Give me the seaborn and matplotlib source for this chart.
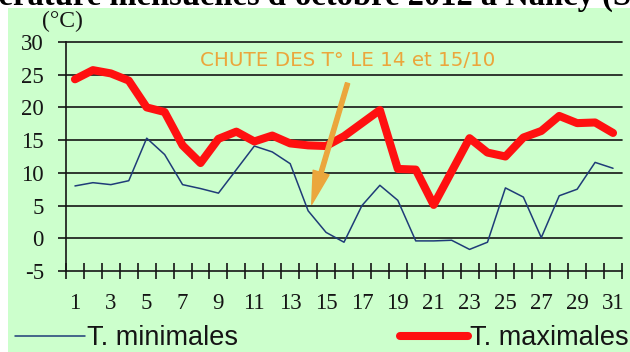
import numpy as np
import pandas as pd
import matplotlib
matplotlib.use("Agg")
import matplotlib.pyplot as plt
import seaborn as sns
from matplotlib.lines import Line2D
from matplotlib.patches import Rectangle

# Daily temperatures, October 2012
days = list(range(1, 32))
t_min = [8.0, 8.5, 8.2, 8.8, 15.3, 12.8, 8.2, 7.6, 6.9, 10.5, 14.1, 13.2, 11.4,
         4.2, 0.9, -0.6, 5.0, 8.1, 5.8, -0.4, -0.4, -0.3, -1.7, -0.6, 7.7, 6.3,
         0.1, 6.5, 7.5, 11.6, 10.7]
t_max = [24.3, 25.7, 25.2, 24.1, 20.0, 19.3, 14.2, 11.5, 15.2, 16.3, 14.8, 15.7,
         14.5, 14.2, 14.1, 15.6, 17.6, 19.6, 10.6, 10.5, 5.1, 10.2, 15.3, 13.1,
         12.5, 15.4, 16.4, 18.7, 17.6, 17.7, 16.1]

y_ticks = [-5, 0, 5, 10, 15, 20, 25, 30]
x_label_days = list(range(1, 32, 2))
series_names = ["T. minimales", "T. maximales"]
unit_label = "(°C)"
title = "Température mensuelles d'octobre 2012 à Nancy (Station)"
note_text = "CHUTE DES T° LE 14 et 15/10"
note_xy = (16.2, 27.2)
arrow_tail = (16.2, 23.7)
arrow_head = (14.2, 5.2)

GREEN = "#CCFFCC"
BLUE = "#1F3C78"
RED = "#FF1010"
ORANGE = "#EBA63C"
INK = "#151515"

sns.set_theme(style="white")
plt.rcParams["axes.unicode_minus"] = False

W, H = 630, 352
fig = plt.figure(figsize=(W / 100, H / 100), dpi=100, facecolor="white")
fig.patches.append(Rectangle((8 / W, 0), 1, (H - 8) / H, transform=fig.transFigure,
                             facecolor=GREEN, edgecolor="none", zorder=-5))

ax = fig.add_axes([66 / W, (H - 271) / H, 556 / W, 229 / H])
ax.set_facecolor("none")
ax.set_zorder(2)

df = pd.DataFrame({"jour": days, "tmin": t_min, "tmax": t_max})

# horizontal rules
for y in y_ticks[1:]:
    ax.axhline(y, color=INK, lw=1.2, zorder=1, clip_on=False)

sns.lineplot(data=df, x="jour", y="tmin", ax=ax, color=BLUE, lw=1.1, zorder=3)
sns.lineplot(data=df, x="jour", y="tmax", ax=ax, color=RED, lw=5.8, zorder=4,
             solid_capstyle="round", solid_joinstyle="round")

ax.set_xlim(0.5, 31.5)
ax.set_ylim(-5, 30)
ax.set_xlabel("")
ax.set_ylabel("")

serif = "Liberation Serif"
ax.set_yticks(y_ticks)
ax.set_yticklabels([str(v) for v in y_ticks], fontfamily=serif, fontsize=16.5, color=INK)
ax.tick_params(axis="y", left=True, length=6, width=1.2, color=INK, pad=10)

ax.set_xticks(np.arange(0.5, 32, 1))
ax.set_xticklabels([])
ax.tick_params(axis="x", which="major", bottom=True, direction="inout", length=12,
               width=1.2, color=INK)
ax.set_xticks(x_label_days, minor=True)
ax.set_xticklabels([str(d) for d in x_label_days], minor=True, fontfamily=serif,
                   fontsize=16.5, color=INK)
ax.tick_params(axis="x", which="minor", bottom=True, length=0, pad=16)

for side in ["top", "right"]:
    ax.spines[side].set_visible(False)
for side in ["left", "bottom"]:
    ax.spines[side].set_color(INK)
    ax.spines[side].set_linewidth(1.2)

# annotation of the temperature drop
ax.text(*note_xy, note_text, ha="center", va="center", color=ORANGE,
        fontsize=14.3, fontfamily="DejaVu Sans", zorder=5)
ax.annotate("", xy=arrow_head, xytext=arrow_tail,
            arrowprops=dict(arrowstyle="simple,head_length=1.7,head_width=0.85,tail_width=0.22",
                            color=ORANGE, shrinkA=0, shrinkB=0, mutation_scale=14),
            zorder=5)

fig.text(62 / W, 1 - 21 / H, unit_label, ha="center", va="center",
         fontfamily=serif, fontsize=17, color=INK)

fig.text(-0.127, 1 - 4.5 / H, title, ha="left", va="baseline", fontfamily=serif,
         fontweight="bold", fontsize=23.5, color="black")

# legend
sans = {"family": "Liberation Sans", "size": 19.5}
fig.legend(handles=[Line2D([], [], color=BLUE, lw=1.1)], labels=[series_names[0]],
           loc="center left", bbox_to_anchor=(15 / W, 14 / H), frameon=False,
           borderpad=0, borderaxespad=0, handlelength=2.58, handletextpad=0.08,
           prop=sans, labelcolor=INK)
fig.legend(handles=[Line2D([], [], color=RED, lw=5.8, solid_capstyle="round")],
           labels=[series_names[1]], loc="center left",
           bbox_to_anchor=(400 / W, 14 / H), frameon=False, borderpad=0,
           borderaxespad=0, handlelength=2.5, handletextpad=0.08, prop=sans,
           labelcolor=INK)

fig.savefig("out.png", dpi=100, facecolor="white")
